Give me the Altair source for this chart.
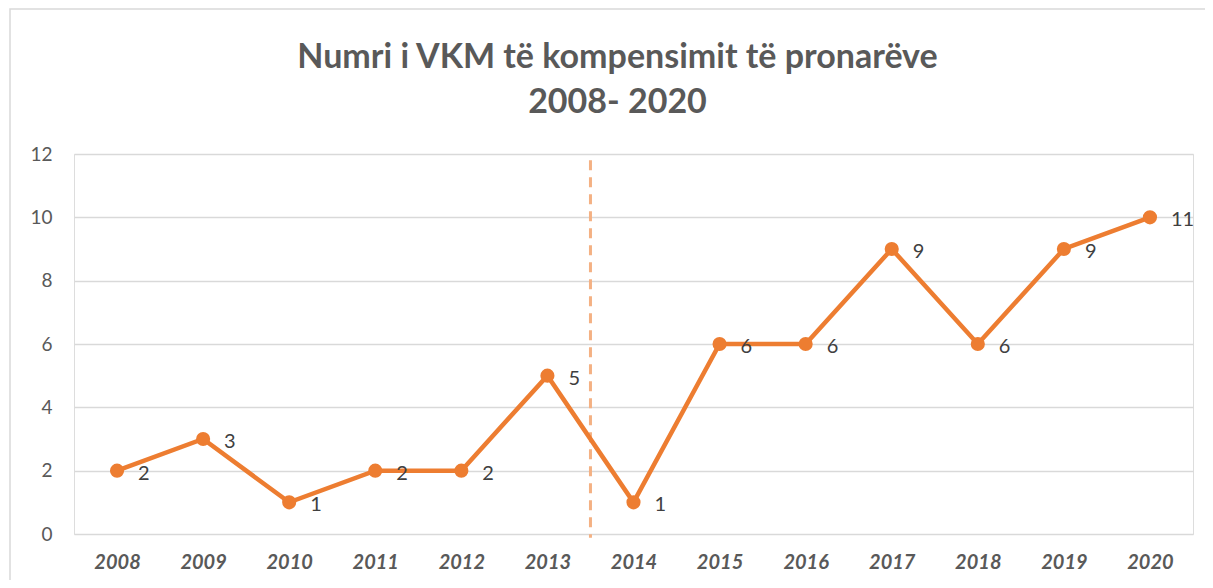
import altair as alt
import pandas as pd

years = [2008, 2009, 2010, 2011, 2012, 2013, 2014, 2015, 2016, 2017, 2018, 2019, 2020]
values = [2, 3, 1, 2, 2, 5, 1, 6, 6, 9, 6, 9, 10]
labels = ["2", "3", "1", "2", "2", "5", "1", "6", "6", "9", "6", "9", "11"]
divider_year = [2013.5]
divider_top = [11.8]
divider_bottom = [-0.12]
y_ticks = [0, 2, 4, 6, 8, 10, 12]

df = pd.DataFrame({"year": years, "value": values, "label": labels})
div = pd.DataFrame({"x": divider_year, "y": divider_top, "y2": divider_bottom})

FONT = "Lato"
ORANGE = "#ED7D31"

x_enc = alt.X("year:Q", scale=alt.Scale(domain=[2007.5, 2020.5], nice=False, zero=False),
              axis=alt.Axis(values=years, format="d", title=None, grid=False, domain=False,
                            ticks=False, labelPadding=18, labelFontSize=20, labelFontWeight="bold",
                            labelFontStyle="italic", labelColor="#595959", labelFont=FONT))
y_enc = alt.Y("value:Q", scale=alt.Scale(domain=[0, 12], nice=False),
              axis=alt.Axis(values=y_ticks, title=None, domain=False, ticks=False, labelPadding=22,
                            labelFontSize=19, labelColor="#595959", labelFont=FONT,
                            gridColor="#D9D9D9", gridWidth=1.5))

base = alt.Chart(df)

frame = alt.Chart(pd.DataFrame({"a": [0]})).mark_rect(
    fill=None, stroke="#D9D9D9", strokeWidth=1.5, clip=False
).encode(x=alt.value(-64), x2=alt.value(1160), y=alt.value(-145), y2=alt.value(460))

line = base.mark_line(color=ORANGE, strokeWidth=4.5).encode(x=x_enc, y=y_enc)
pts = base.mark_circle(color=ORANGE, size=200, opacity=1).encode(x="year:Q", y="value:Q")
txt = base.mark_text(align="left", baseline="middle", dx=21, dy=3, fontSize=20,
                     color="#404040", font=FONT).encode(x="year:Q", y="value:Q", text="label:N")
rule = alt.Chart(div).mark_rule(color="#F4B183", strokeWidth=3, strokeDash=[10, 7], clip=False).encode(
    x="x:Q", y="y:Q", y2="y2:Q")

chart = alt.layer(frame, rule, line, pts, txt).properties(
    width=1119, height=380,
    title=alt.TitleParams(["Numri i VKM të kompensimit të pronarëve", "2008- 2020"],
                          font=FONT, fontSize=34, fontWeight="bold", color="#595959",
                          anchor="middle", lineHeight=45, offset=-112, dx=-16, frame="group"),
    autosize=alt.AutoSizeParams(type="none"),
    padding={"left": 66, "top": 146, "right": 12, "bottom": 46},
).configure_view(stroke=None).configure(background="white")

chart.save("out.html", embed_options={"renderer": "svg", "actions": False})
